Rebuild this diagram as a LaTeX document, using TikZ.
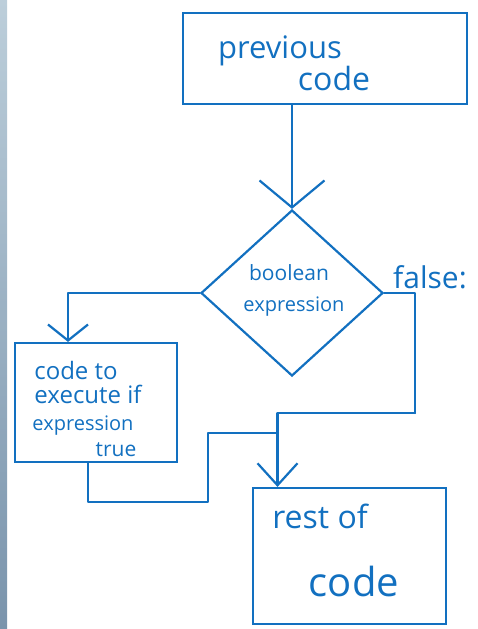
\documentclass[tikz,border=0pt]{standalone}
\usepackage{fontspec}
\setmainfont{Open Sans}
\usetikzlibrary{shapes.geometric,arrows.meta}
\definecolor{inkBlue}{RGB}{18,112,192}
\definecolor{edgeTop}{RGB}{188,206,218}
\definecolor{edgeBottom}{RGB}{122,148,172}

\begin{document}
\begin{tikzpicture}
[x=1pt,y=-1pt,
  boxDecorate/.style={shape=rectangle,draw=inkBlue,line width=2.2pt,inner sep=0pt},%
  diamondDecorate/.style={shape=diamond,draw=inkBlue,line width=2.2pt,inner sep=0pt,
    minimum width=182pt,minimum height=166pt},%
  flowLine/.style={draw=inkBlue,line width=2.2pt,line join=round,line cap=round},%
  handText/.style={text=inkBlue,anchor=base,inner sep=0pt}]
\useasboundingbox (0,0) rectangle (477,629);
%% screen edge on the left
\shade[top color=edgeTop,bottom color=edgeBottom] (0,0) rectangle (7,629);
%% boxes
\foreach \nodename/\x/\y/\w/\h in {prev/325/58.5/284/91, exec/96/402.5/162/119, rest/349.5/556/193/136}
{
  \node (\nodename) at (\x,\y) [boxDecorate,minimum width=\w pt,minimum height=\h pt] {};
}
\node (dia) at (292,293) [diamondDecorate] {};
%% handwritten texts
\foreach \nodename/\x/\y/\size/\txt in {txtPrevious/280/58/31/previous, txtCode/334/90/32/code,
  txtBoolean/289/280/21/boolean, txtExpr/294/311/20/expression, txtFalse/430/288/30/false:,
  txtCodeTo/76/379/24/code to, txtExecute/88/403/24/execute if, txtExprTrue/83/430/20/expression,
  txtTrue/116/456/21/true, txtRestOf/320/528/32/rest of, txtRestCode/354/596/40/code}
{
  \node (\nodename) at (\x,\y) [handText,font=\fontsize{\size}{\size}\selectfont] {\txt};
}
%% connectors
\coordinate (falseTurn) at (415,413);
\coordinate (merge) at (277,433);
\coordinate (trueTurn) at (208,502);
\draw[flowLine,-{Straight Barb[length=27pt,width=65pt]}] (dia.north |- prev.south) -- (dia.north);
\draw[flowLine,-{Straight Barb[length=16pt,width=40pt]}] (dia.west) -| ([xshift=-28pt]exec.north);
\draw[flowLine] (dia.east) -| (falseTurn);
\draw[flowLine,-{Straight Barb[length=22pt,width=40pt]}] (falseTurn) -| ([xshift=-72pt]rest.north);
\draw[flowLine] ([xshift=-8pt]exec.south) |- (trueTurn) |- (merge);
\end{tikzpicture}
\end{document}
